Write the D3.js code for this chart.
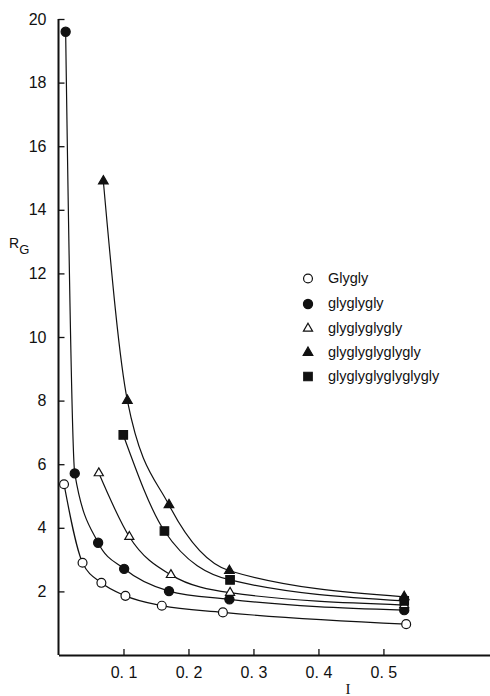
<!DOCTYPE html>
<html>
<head>
<meta charset="utf-8">
<script src="https://cdn.jsdelivr.net/npm/d3@7"></script>
<style>
  html, body { margin: 0; padding: 0; background: #fff; }
  svg { display: block; }
  .tick text { font-family: "Liberation Sans Narrow", "Liberation Sans", Arial, sans-serif; }
</style>
</head>
<body>
<div id="chart"></div>
<script>
// R_G versus ionic strength I for glycine oligomers
const seriesNames = ["Glygly", "glyglygly", "glyglyglygly", "glyglyglyglygly", "glyglyglyglyglygly"];
const seriesSymbols = ["openCircle", "circle", "openTriangle", "triangle", "square"];

const glyglyI  = [0.0085, 0.037, 0.066, 0.103, 0.159, 0.253, 0.535];
const glyglyR  = [5.37, 2.90, 2.27, 1.86, 1.55, 1.34, 0.97];

const gly3I = [0.011, 0.025, 0.061, 0.101, 0.170, 0.263, 0.532];
const gly3R = [19.6, 5.71, 3.53, 2.71, 2.01, 1.75, 1.41];

const gly4I = [0.062, 0.109, 0.173, 0.264, 0.532];
const gly4R = [5.72, 3.72, 2.52, 1.96, 1.57];

const gly5I = [0.069, 0.106, 0.170, 0.263, 0.532];
const gly5R = [14.9, 8.0, 4.72, 2.65, 1.83];

const gly6I = [0.0997, 0.163, 0.264, 0.532];
const gly6R = [6.92, 3.90, 2.36, 1.70];

const xTickValues = [0.1, 0.2, 0.3, 0.4, 0.5];
const xTickLabels = ["0. 1", "0. 2", "0. 3", "0. 4", "0. 5"];
const yTickValues = [2, 4, 6, 8, 10, 12, 14, 16, 18, 20];

const seriesI = [glyglyI, gly3I, gly4I, gly5I, gly6I];
const seriesR = [glyglyR, gly3R, gly4R, gly5R, gly6R];

const W = 490, H = 696;
const svg = d3.select("#chart").append("svg").attr("width", W).attr("height", H);

const x = d3.scaleLinear().domain([0, 0.664]).range([58.5, 490]);
const y = d3.scaleLinear().domain([0, 20]).range([655, 19]);

// axes with inward ticks
const xAxis = d3.axisBottom(x).tickValues(xTickValues)
  .tickFormat((d, i) => xTickLabels[i]).tickSizeInner(-6).tickSizeOuter(0).tickPadding(12);
const yAxis = d3.axisLeft(y).tickValues(yTickValues)
  .tickSizeInner(-6).tickSizeOuter(0).tickPadding(12);

const gx = svg.append("g").attr("transform", `translate(0,${y(0)})`).call(xAxis);
const gy = svg.append("g").attr("transform", `translate(${x(0)},0)`).call(yAxis);

[gx, gy].forEach(g => {
  g.select(".domain").attr("stroke", "#111").attr("stroke-width", 2);
  g.selectAll(".tick line").attr("stroke", "#111").attr("stroke-width", 1.3);
  g.selectAll(".tick text").attr("fill", "#111").attr("font-size", 16);
});
gy.select(".domain").attr("d", `M0,${y(0)}V${y(20)}`);

// axis titles
svg.append("text").attr("x", 348).attr("y", 694)
  .attr("text-anchor", "middle")
  .attr("font-family", "Liberation Serif, serif").attr("font-size", 15).attr("fill", "#111")
  .text("I");
const rg = svg.append("text").attr("x", 9).attr("y", 248)
  .attr("font-family", "Liberation Sans, Arial, sans-serif").attr("font-size", 14).attr("fill", "#111");
rg.append("tspan").text("R");
rg.append("tspan").attr("dy", 6).attr("font-size", 13).text("G");

// curves
const line = d3.line().x(d => x(d[0])).y(d => y(d[1])).curve(d3.curveMonotoneX);
seriesI.forEach((xs, k) => {
  const pts = xs.map((v, i) => [v, seriesR[k][i]]);
  svg.append("path").datum(pts).attr("d", line)
    .attr("fill", "none").attr("stroke", "#111").attr("stroke-width", 1.2);
});

// markers
function drawMarker(g, kind, cx, cy) {
  let type, size, filled;
  if (kind === "openCircle") { type = d3.symbolCircle; size = 62; filled = false; }
  else if (kind === "circle") { type = d3.symbolCircle; size = 66; filled = true; }
  else if (kind === "openTriangle") { type = d3.symbolTriangle; size = 36; filled = false; }
  else if (kind === "triangle") { type = d3.symbolTriangle; size = 40; filled = true; }
  else { type = d3.symbolSquare; size = 72; filled = true; }
  g.append("path")
    .attr("d", d3.symbol().type(type).size(size)())
    .attr("transform", `translate(${cx},${cy})`)
    .attr("fill", filled ? "#111" : "#fff")
    .attr("stroke", "#111").attr("stroke-width", 1.2);
}

const marks = svg.append("g");
seriesI.forEach((xs, k) => {
  xs.forEach((v, i) => drawMarker(marks, seriesSymbols[k], x(v), y(seriesR[k][i])));
});

// legend
const legend = svg.append("g");
const legendY = [278.5, 304, 328.5, 352.5, 376.5];
seriesNames.forEach((name, k) => {
  drawMarker(legend, seriesSymbols[k], 308, legendY[k]);
  legend.append("text").attr("x", 328).attr("y", legendY[k] + 4)
    .attr("font-family", "Liberation Sans, Arial, sans-serif").attr("font-size", 14.5)
    .attr("fill", "#111").text(name);
});
</script>
</body>
</html>
